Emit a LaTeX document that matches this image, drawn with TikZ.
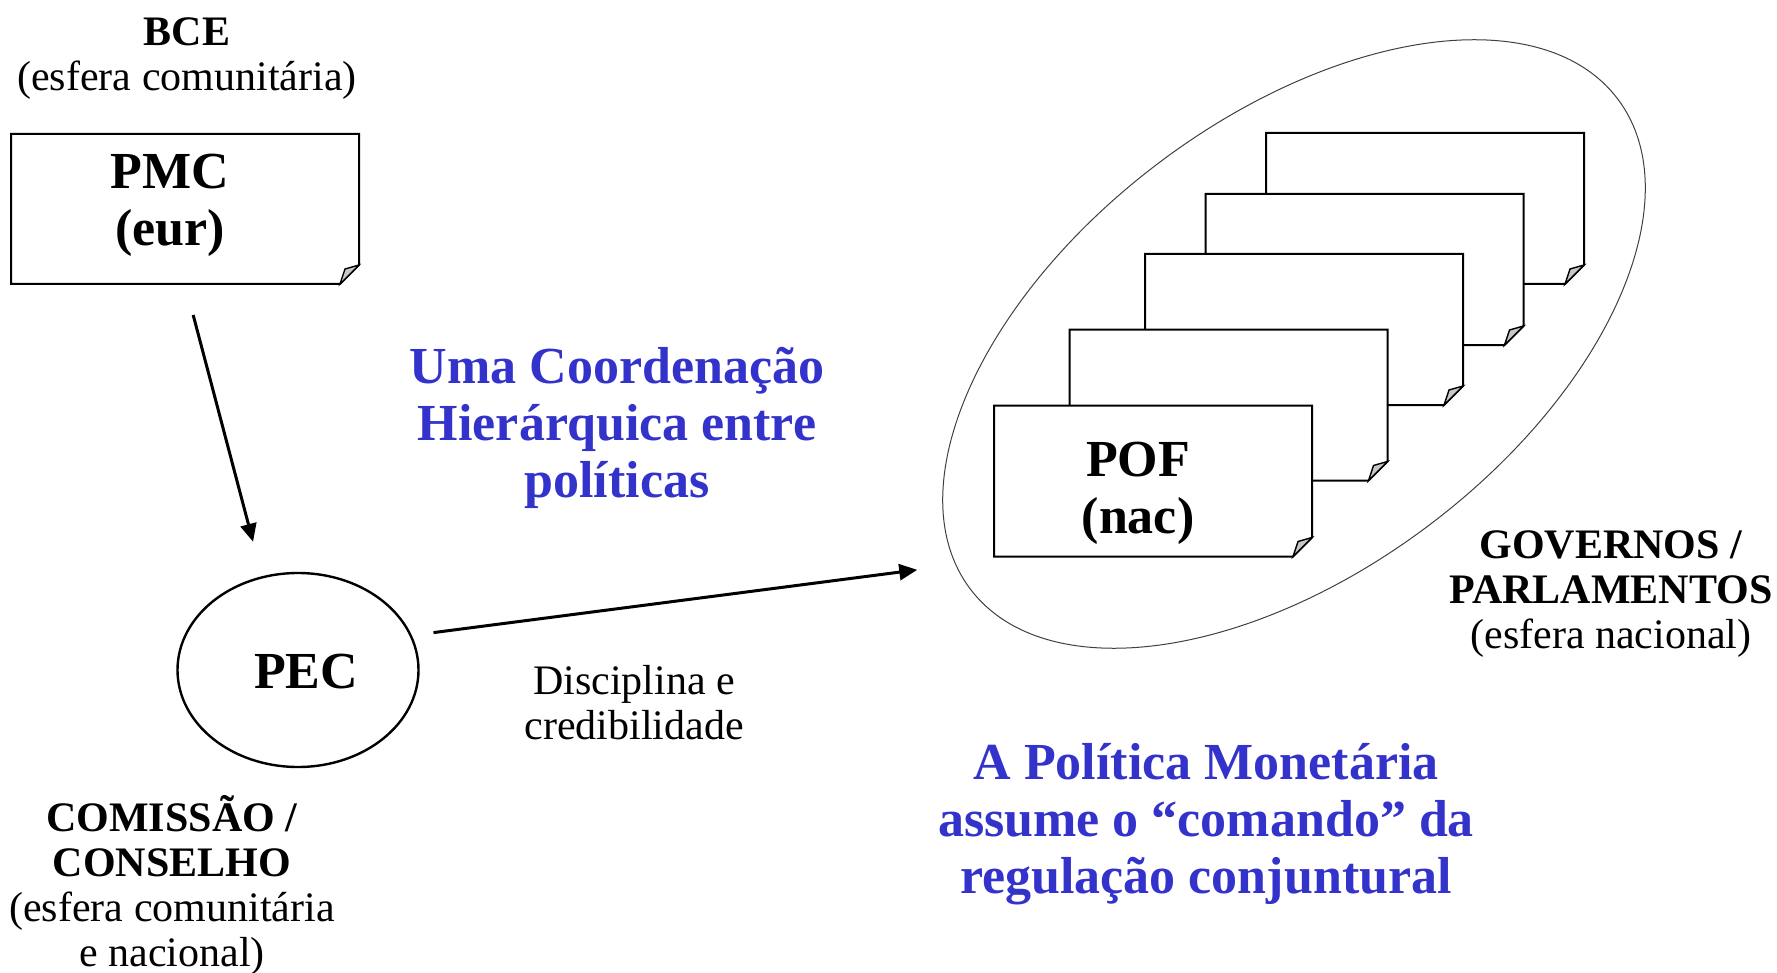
\documentclass[tikz,border=0pt]{standalone}
\usepackage{fontspec}
\setmainfont{Liberation Serif}
\usetikzlibrary{arrows.meta,shapes.geometric}
\definecolor{titleblue}{HTML}{3333CC}

\tikzset{
  note/.style={rectangle,inner sep=0pt,outer sep=0pt,minimum width=159pt,minimum height=75.5pt},
  conn/.style={-{Triangle[length=9pt,width=8pt]},line width=1.5pt},
  lbl/.style={align=center,anchor=base,inner sep=0pt,font=\fontsize{21}{22.5}\selectfont},
  big/.style={align=center,anchor=base,inner sep=0pt,font=\fontsize{26}{28.5}\selectfont\bfseries},
  ttl/.style={big,text=titleblue}
}
\newcommand\foldnote[1]{%
  \filldraw[fill=white,line width=1pt] (#1.north west) -- (#1.north east) -- ([yshift=9.5pt]#1.south east) -- ([xshift=-9.5pt]#1.south east) -- (#1.south west) -- cycle;
  \filldraw[fill=black!22,line width=.7pt] ([yshift=9.5pt]#1.south east) -- ([xshift=-9.5pt]#1.south east) -- ([xshift=-7pt,yshift=7.5pt]#1.south east) -- cycle;
}

\begin{document}
\begin{tikzpicture}[x=0.5pt,y=-0.5pt]
\useasboundingbox (0,0) rectangle (1777,973);
% esfera comunitaria (base = ultima linha)
\node[lbl] (bce) at (187,91) {\textbf{BCE}\\(esfera comunitária)};
\node[note,minimum width=174pt,minimum height=75pt] (pmc) at (185,209) {};
\foldnote{pmc}
\node[big] (pmctxt) at (170,246) {PMC\\(eur)};
\node[draw,ellipse,line width=1.2pt,inner sep=0pt,outer sep=0pt,minimum width=120.5pt,minimum height=97pt] (pec) at (298,670) {};
\node[big] (pectxt) at (306,688) {PEC};
\node[lbl] (com) at (172,966) {\textbf{COMISSÃO /}\\\textbf{CONSELHO}\\(esfera comunitária\\e nacional)};
% esfera nacional
\node[draw=black!75,ellipse,line width=.5pt,inner sep=0pt,outer sep=0pt,rotate=37.15,minimum width=406pt,minimum height=226pt] (gov) at (1294,344) {};
\foreach \n/\cx/\cy in {5/1425/208.5,4/1364.5/269.5,3/1304/329.5,2/1228.5/405,1/1153/481} {
  \node[note] (pof\n) at (\cx,\cy) {};
  \foldnote{pof\n}
}
\node[big] (poftxt) at (1138,533) {POF\\(nac)};
\node[lbl] (govlbl) at (1611,648) {\textbf{GOVERNOS /}\\\textbf{PARLAMENTOS}\\(esfera nacional)};
% titulos
\node[ttl] (hier) at (617,497) {Uma Coordenação\\Hierárquica entre\\políticas};
\node[ttl] (cmd) at (1206,893) {A Política Monetária\\assume o “comando” da\\regulação conjuntural};
\node[lbl] (disc) at (634,739) {Disciplina e\\credibilidade};
% setas
\draw[conn,shorten <=16pt,shorten >=18.4pt] (pmc.south) -- (pec.111);
\draw[conn,shorten <=11.5pt,shorten >=19.5pt] (pec.17) -- (gov.176.3);
\end{tikzpicture}
\end{document}
